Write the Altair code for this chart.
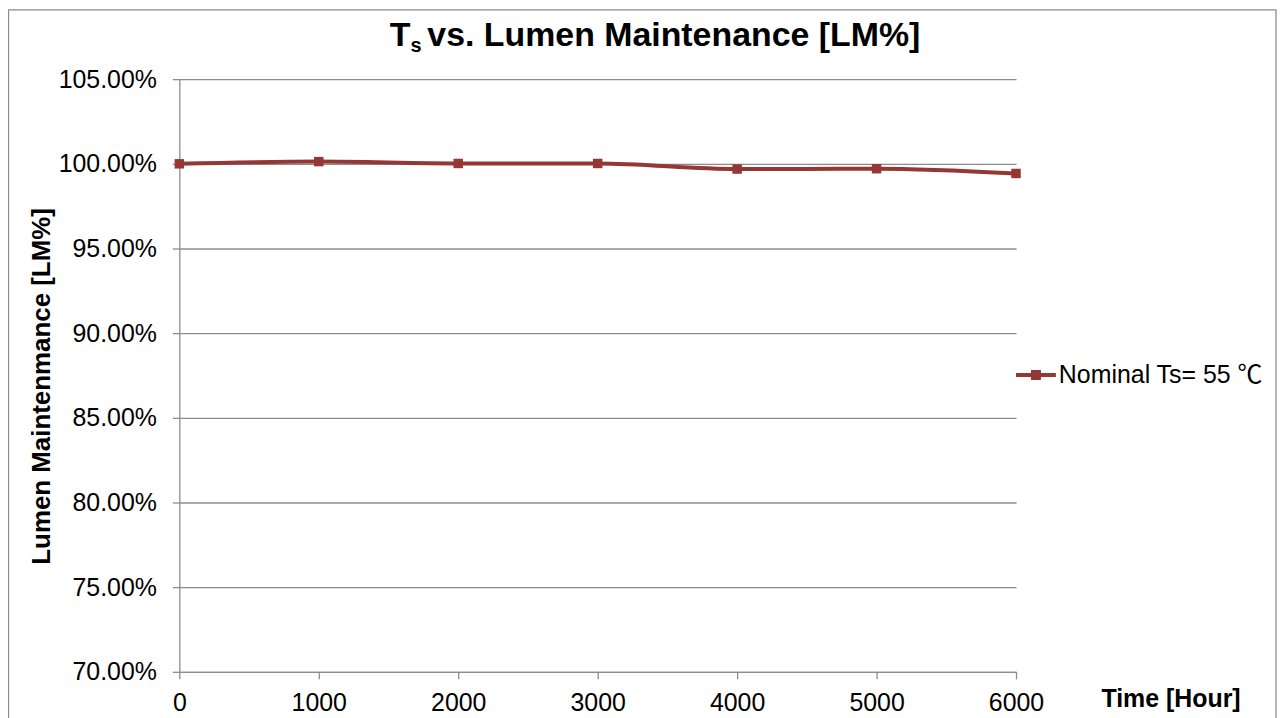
import altair as alt
import pandas as pd

# ---- data ----
hours = [0, 1000, 2000, 3000, 4000, 5000, 6000]
lumen = [1.0000, 1.0013, 1.0002, 1.0002, 0.9969, 0.9971, 0.9943]
series_name = "Nominal Ts= 55 ℃"
x_ticks = [0, 1000, 2000, 3000, 4000, 5000, 6000]
y_ticks = [0.70, 0.75, 0.80, 0.85, 0.90, 0.95, 1.00, 1.05]
title_main = "T"
title_sub = "s"
title_rest = "vs. Lumen Maintenance [LM%]"

df = pd.DataFrame({"Time": hours, "LM": lumen, "Series": [series_name] * len(hours)})
one = pd.DataFrame({"k": [0]})

RED = "#953735"
GREY = "#8c8c8c"
FONT = "Liberation Sans"
LEGEND_FONT = "Liberation Sans, Noto Sans CJK SC"

x_enc = alt.X(
    "Time:Q",
    scale=alt.Scale(domain=[0, 6000], nice=False, zero=False),
    axis=alt.Axis(
        values=x_ticks, format="d", title="Time [Hour]",
        grid=False, domainColor=GREY, domainWidth=1.3,
        tickColor=GREY, tickSize=7, tickWidth=1.3,
        labelFont=FONT, labelFontSize=25, labelColor="black",
        labelBaseline="alphabetic", labelPadding=32, labelFlush=False,
        titleFont=FONT, titleFontSize=25, titleFontWeight="bold", titleColor="black",
        titleAnchor="start", titleAlign="right", titleBaseline="alphabetic",
        titleX=1065, titleY=35,
    ),
)
y_enc = alt.Y(
    "LM:Q",
    scale=alt.Scale(domain=[0.70, 1.05], nice=False, zero=False),
    axis=alt.Axis(
        values=y_ticks, format=".2%", title="Lumen Maintenmance [LM%]",
        grid=True, gridColor=GREY, gridWidth=1.3,
        domainColor=GREY, domainWidth=1.3,
        tickColor=GREY, tickSize=7, tickWidth=1.3,
        labelFont=FONT, labelFontSize=25, labelColor="black",
        labelPadding=16, labelBaseline="middle",
        titleFont=FONT, titleFontSize=26, titleFontWeight="bold", titleColor="black",
        titleAngle=270, titleAlign="center", titleBaseline="alphabetic",
        titleX=-130, titleY=308,
    ),
)

# outer chart-area border
frame = alt.Chart(one).mark_rect(
    fill="transparent", stroke=GREY, strokeWidth=1.3
).encode(
    x=alt.value(-171.5), x2=alt.value(1101), y=alt.value(-69.5), y2=alt.value(700)
)

# chart title with subscript
t_main = alt.Chart(one).mark_text(
    font=FONT, fontSize=34, fontWeight="bold", color="black",
    align="right", baseline="alphabetic"
).encode(x=alt.value(232), y=alt.value(-33.5), text=alt.value(title_main))
t_sub = alt.Chart(one).mark_text(
    font=FONT, fontSize=20, fontWeight="bold", color="black",
    align="left", baseline="alphabetic"
).encode(x=alt.value(232), y=alt.value(-27), text=alt.value(title_sub))
t_rest = alt.Chart(one).mark_text(
    font=FONT, fontSize=34, fontWeight="bold", color="black",
    align="left", baseline="alphabetic"
).encode(x=alt.value(249), y=alt.value(-33.5), text=alt.value(title_rest))

line = alt.Chart(df).mark_line(
    color=RED, strokeWidth=4, interpolate="monotone"
).encode(x=x_enc, y=y_enc)

points = alt.Chart(df).mark_square(size=90, opacity=1, filled=True).encode(
    x=x_enc,
    y=y_enc,
    color=alt.Color(
        "Series:N",
        scale=alt.Scale(domain=[series_name], range=[RED]),
        legend=alt.Legend(
            title=None, orient="none", legendX=840, legendY=277, padding=0,
            symbolType="M-1,-0.1H1V0.1H-1Z M-0.25,-0.25H0.25V0.25H-0.25Z",
            symbolSize=1600, symbolStrokeWidth=0, symbolFillColor=RED,
            labelFont=LEGEND_FONT, labelFontSize=25, labelColor="black",
            labelOffset=3, labelLimit=400,
        ),
    ),
)

chart = (
    alt.layer(frame, t_main, t_sub, t_rest, line, points)
    .properties(
        width=840,
        height=595,
        autosize=alt.AutoSizeParams(type="none"),
        padding={"left": 172, "top": 70, "right": 262, "bottom": 60},
        background="white",
    )
    .configure_view(stroke="transparent")
)

chart.save("out.html", embed_options={"renderer": "svg", "actions": False})
